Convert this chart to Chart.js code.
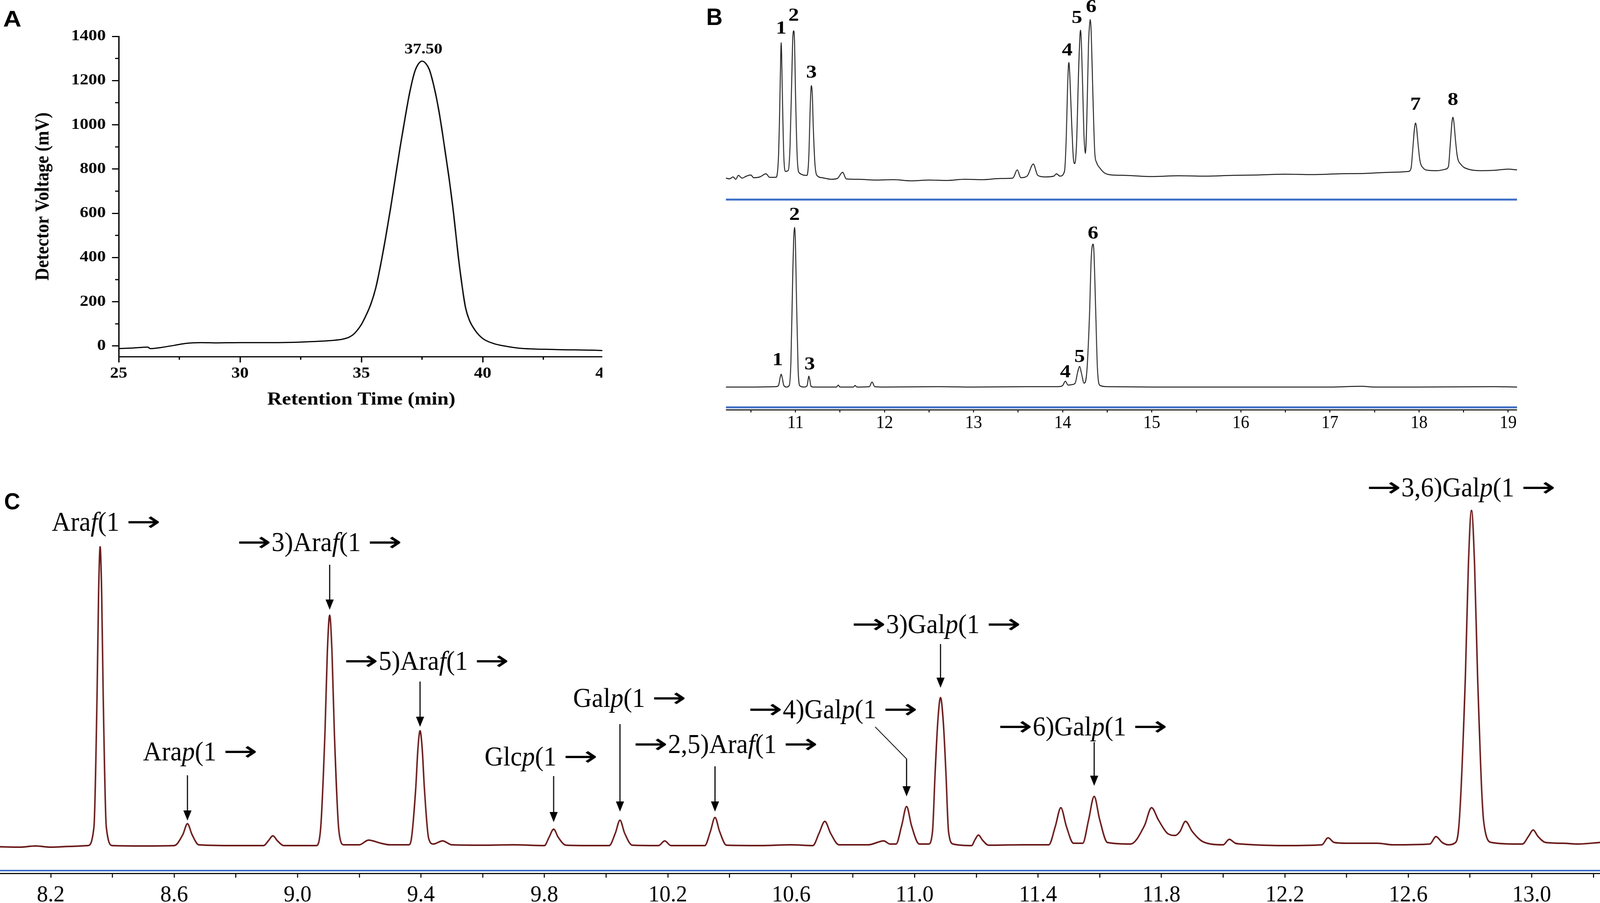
<!DOCTYPE html>
<html>
<head>
<meta charset="utf-8">
<script src="https://cdn.jsdelivr.net/npm/chart.js@4.4.1/dist/chart.umd.min.js"></script>
<style>
  html, body { margin: 0; padding: 0; background: #fff; overflow: hidden; }
  #stage { position: absolute; left: 0; top: 0; width: 4320px; height: 2312px; transform-origin: 0 0; overflow: hidden; }
  canvas { position: absolute; }
  .tag { position: absolute; font-family: 'Liberation Sans', Arial, sans-serif; font-weight: bold; line-height: 1; color: #000; }
</style>
</head>
<body>
<div id="stage">
  <div style="position:absolute;left:0;top:0;width:1626px;height:1060px;overflow:hidden">
    <div style="position:absolute;left:0;top:0;width:1400px;height:1060px;transform:scaleX(1.2);transform-origin:0 0">
      <canvas id="chartA" width="1400" height="1060" style="left:0;top:0"></canvas>
      <div class="tag" style="left:7px;top:20px;font-size:57px">A</div>
    </div>
  </div>
  <canvas id="chartBTop" width="2136" height="519" style="left:1960px;top:0"></canvas>
  <canvas id="chartBBot" width="2136" height="586" style="left:1960px;top:524px"></canvas>
  <div class="tag" style="left:1907px;top:13px;font-size:61px">B</div>
  <canvas id="chartC" width="4320" height="1202" style="left:0;top:1110px"></canvas>
  <div class="tag" style="left:11px;top:1254px;font-size:60px">C</div>
</div>

<script>
// ---- panel A: GPC elution profile ----
const aTime = [25.0, 25.6, 26.2, 26.3, 26.8, 27.3, 27.8, 28.4, 29.0, 30.0, 31.0, 32.0, 33.0, 33.8, 34.2, 34.5, 34.7, 35.0, 35.2, 35.4,
  35.6, 35.8, 36.0, 36.2, 36.4, 36.6, 36.8, 37.0, 37.2, 37.35, 37.5, 37.65, 37.8, 38.0, 38.2, 38.4, 38.6, 38.8, 39.0, 39.2,
  39.3, 39.45, 39.7, 40.0, 40.45, 41.0, 41.5, 43.0, 44.5, 45.0]
const aVolt = [-12, -9, -5, -12, -6, 3, 12, 15, 14, 15, 15, 16, 20, 25, 30, 40, 55, 97, 140, 192,
  265, 370, 490, 620, 760, 900, 1030, 1150, 1240, 1275, 1288, 1278, 1250, 1170, 1060, 920, 770, 600, 400, 235,
  170, 117, 69, 34, 11, -2, -10, -16, -19, -21]
const aXMajor = [25, 30, 35, 40, 45]
const aXMinor = [27.5, 32.5, 37.5, 42.5]
const aYMajor = [0, 200, 400, 600, 800, 1000, 1200, 1400]
const aYMinor = [100, 300, 500, 700, 900, 1100, 1300]
const aPeakLabel = { text: '37.50', x: 37.56, y: 1339 }

// ---- panel B: monosaccharide standards (top) and sample (bottom) ----
const bTopTime = [10.22, 10.26, 10.3, 10.33, 10.36, 10.4, 10.45, 10.5, 10.53, 10.6, 10.67, 10.71, 10.78,
  10.81, 10.825, 10.835, 10.84, 10.845, 10.855, 10.87, 10.89,
  10.92, 10.94, 10.96, 10.97, 10.98, 10.99, 11.0, 11.02, 11.045,
  11.13, 11.15, 11.165, 11.175, 11.18, 11.19, 11.2, 11.22, 11.25,
  11.3, 11.4, 11.47, 11.53, 11.57, 11.7, 11.9, 12.1, 12.3, 12.5, 12.7, 12.9, 13.1, 13.3, 13.44, 13.49, 13.53,
  13.6, 13.67, 13.72, 13.8, 13.9, 13.93, 13.97,
  14.02, 14.04, 14.055, 14.065, 14.07, 14.08, 14.1, 14.12, 14.135, 14.155,
  14.18, 14.195, 14.2, 14.21, 14.225, 14.24, 14.255,
  14.27, 14.29, 14.305, 14.31, 14.32, 14.34, 14.36, 14.38, 14.42, 14.47, 14.55,
  14.7, 15.0, 15.3, 15.6, 15.9, 16.2, 16.5, 16.8, 17.1, 17.4, 17.7, 17.88,
  17.91, 17.93, 17.95, 17.96, 17.97, 17.99, 18.01, 18.05, 18.1, 18.2, 18.3,
  18.33, 18.35, 18.37, 18.38, 18.39, 18.41, 18.43, 18.47, 18.55, 18.7, 18.85, 19.0, 19.1]
const bTopSignal = [55, 53, 58, 52, 62, 55, 60, 63, 56, 58, 66, 57, 57,
  110, 250, 370, 402, 372, 250, 110, 72,
  75, 140, 320, 410, 432, 405, 280, 110, 68,
  62, 110, 230, 285, 292, 268, 190, 88, 60,
  56, 52, 54, 70, 53, 52, 50, 51, 48, 50, 49, 52, 51, 54, 55, 76, 56,
  60, 91, 62, 58, 60, 66, 60,
  72, 160, 290, 345, 351, 318, 200, 105, 92, 140,
  340, 425, 434, 400, 280, 160, 118,
  200, 400, 455, 461, 430, 260, 120, 95, 80, 68, 63,
  62, 59, 61, 60, 62, 63, 65, 64, 66, 67, 70, 72,
  80, 130, 185, 196, 188, 140, 100, 80, 75, 74, 78,
  85, 140, 200, 211, 200, 150, 110, 90, 78, 74, 75, 78, 76]
const bTopPeakNames = ['1', '2', '3', '4', '5', '6', '7', '8']
const bTopPeakTime = [10.84, 10.98, 11.18, 14.05, 14.16, 14.32, 17.96, 18.38]
const bTopPeakTag = [437, 470, 324, 381, 464, 492, 242, 254]

const bBotTime = [10.22, 10.5, 10.78, 10.81, 10.83, 10.84, 10.85, 10.87, 10.9,
  10.93, 10.95, 10.97, 10.98, 10.99, 11.0, 11.01, 11.03, 11.05, 11.1,
  11.13, 11.145, 11.15, 11.16, 11.175, 11.2, 11.46, 11.48, 11.5, 11.65, 11.67, 11.69, 11.83, 11.86, 11.89,
  12.0, 12.6, 13.0, 13.6, 13.95, 14.0, 14.03, 14.06, 14.1, 14.14, 14.17, 14.19, 14.21, 14.24,
  14.27, 14.3, 14.32, 14.34, 14.35, 14.37, 14.39, 14.42, 14.5, 15.0, 16.0, 17.0, 17.35, 17.5, 18.0, 18.85, 19.1]
const bBotSignal = [52, 52, 53, 56, 78, 85, 78, 56, 52,
  56, 120, 340, 430, 461, 420, 300, 100, 55, 52,
  55, 75, 80, 72, 54, 52, 52, 57, 52, 52, 56, 52, 53, 65, 53,
  52, 53, 52, 53, 53, 56, 67, 57, 58, 62, 92, 105, 88, 62,
  90, 230, 380, 418, 400, 250, 100, 56, 53, 52, 52, 52, 54, 52, 52, 53, 52]
const bBotPeakNames = ['1', '2', '3', '4', '5', '6']
const bBotPeakTime = [10.80, 10.99, 11.16, 14.03, 14.19, 14.34]
const bBotPeakTag = [120, 492, 109, 89, 128, 444]
const bXTicks = [10.5, 11, 11.5, 12, 12.5, 13, 13.5, 14, 14.5, 15, 15.5, 16, 16.5, 17, 17.5, 18, 18.5, 19]

// ---- panel C: GC-MS of methylated alditol acetates ----
const cTime = [8.035, 8.1, 8.15, 8.2, 8.27, 8.32, 8.34, 8.35, 8.355, 8.36, 8.365, 8.37, 8.38, 8.4, 8.5,
  8.6, 8.628, 8.643, 8.658, 8.68, 8.8, 8.89, 8.905, 8.92, 8.935, 8.955,
  9.06, 9.074, 9.089, 9.0965, 9.104, 9.1115, 9.119, 9.134, 9.15, 9.2, 9.23, 9.27, 9.3,
  9.36, 9.369, 9.383, 9.39, 9.397, 9.404, 9.411, 9.425, 9.44, 9.47, 9.5, 9.6, 9.7,
  9.8, 9.815, 9.83, 9.845, 9.87, 9.95, 10.01, 10.03, 10.045, 10.06, 10.085, 10.17, 10.19, 10.21,
  10.32, 10.338, 10.353, 10.368, 10.39, 10.5, 10.6, 10.67, 10.69, 10.709, 10.728, 10.755, 10.85, 10.9, 10.92,
  10.94, 10.958, 10.974, 10.99, 11.015, 11.045, 11.058, 11.0665, 11.075, 11.084, 11.093, 11.1015, 11.11, 11.125,
  11.185, 11.195, 11.207, 11.22, 11.24, 11.35, 11.435, 11.456, 11.474, 11.492, 11.515,
  11.545, 11.564, 11.582, 11.6, 11.625, 11.7, 11.745, 11.768, 11.79, 11.82, 11.845,
  11.86, 11.878, 11.9, 11.93, 11.96, 12.0, 12.02, 12.04, 12.06, 12.1, 12.2, 12.32, 12.34, 12.36, 12.4, 12.5, 12.55,
  12.67, 12.69, 12.71, 12.73, 12.75, 12.765, 12.785, 12.795, 12.805, 12.815, 12.825, 12.845, 12.87,
  12.95, 12.97, 12.99, 13.005, 13.02, 13.045, 13.1, 13.15, 13.2216]
const cSignal = [61, 60, 63, 60, 62, 64, 112, 446, 707, 829, 707, 446, 112, 64, 63,
  64, 92, 120, 92, 66, 64, 64, 76, 89, 76, 64,
  64, 101, 359, 560, 654, 560, 359, 101, 66, 66, 78, 70, 66,
  66, 82, 211, 311, 358, 311, 211, 82, 68, 76, 66, 65, 66,
  64, 85, 106, 85, 65, 64, 64, 96, 129, 96, 65, 64, 76, 64,
  64, 100, 136, 100, 65, 64, 66, 64, 95, 126, 95, 66, 66, 76, 68,
  68, 115, 164, 115, 68, 68, 100, 250, 380, 443, 380, 250, 100, 68,
  64, 78, 91, 78, 65, 66, 66, 113, 161, 113, 70,
  70, 130, 190, 130, 72, 68, 115, 161, 130, 95, 90,
  100, 126, 100, 76, 68, 66, 80, 70, 68, 66, 64, 66, 84, 72, 70, 70, 66,
  68, 87, 72, 66, 70, 123, 492, 783, 922, 783, 492, 123, 72,
  68, 68, 88, 104, 88, 72, 70, 68, 72]
const cXTicks = [8.2, 8.4, 8.6, 8.8, 9.0, 9.2, 9.4, 9.6, 9.8, 10.0, 10.2, 10.4, 10.6, 10.8, 11.0, 11.2, 11.4,
  11.6, 11.8, 12.0, 12.2, 12.4, 12.6, 12.8, 13.0, 13.2]
const cLinkages = ['Ara_f_(1→', 'Ara_p_(1→', '→3)Ara_f_(1→', '→5)Ara_f_(1→', 'Glc_p_(1→', 'Gal_p_(1→',
  '→2,5)Ara_f_(1→', '→4)Gal_p_(1→', '→3)Gal_p_(1→', '→6)Gal_p_(1→', '→3,6)Gal_p_(1→']
const cLinkageTime = [8.2034, 8.499, 8.803, 9.15, 9.606, 9.893, 10.088, 10.46, 10.795, 11.27, 12.465]
const cLinkageTag = [888, 300, 836, 532, 287, 437, 319, 408, 626, 364, 976]
// arrows: peak time, start level, tip level
const cArrowTime = [8.643, 9.104, 9.397, 9.83, 10.045, 10.353, 10.974, 11.084, 11.582]
const cArrowFrom = [244, 783, 484, 242, 375, 267, 286, 580, 329]
const cArrowTo = [128, 668, 368, 124, 151, 151, 190, 468, 217]

const serif = "'Liberation Serif', 'Times New Roman', serif"
const arrowFont = "'DejaVu Sans', sans-serif"

// the figure is laid out on a 4320x2312 stage, stretched onto the real viewport
const stage = document.getElementById('stage')
const fitX = window.innerWidth / 4320
const fitY = window.innerHeight / 2312
if (Math.abs(fitX - 1) > 0.001 || Math.abs(fitY - 1) > 0.001) stage.style.transform = 'scale(' + fitX + ',' + fitY + ')'

const xy = (xs, ys) => xs.map((x, i) => ({ x: x, y: ys[i] }))
const tags = (names, xs, ys) => names.map((t, i) => ({ text: t, x: xs[i], y: ys[i] }))

// text with _italic_ parts; arrows drawn from a wider font and stretched
function drawRich(ctx, text, px, py, o) {
  const runs = []
  text.split('_').forEach((part, i) => {
    part.split(/(→)/).forEach((s) => { if (s) runs.push({ s: s, it: i % 2 === 1, arrow: s === '→' }) })
  })
  const fontOf = (r) => r.arrow ? o.size + 'px ' + arrowFont
    : (r.it ? 'italic ' : '') + (o.bold ? 'bold ' : '') + o.size + 'px ' + serif
  const sx = o.sx || 1
  const widths = runs.map((r) => {
    ctx.font = fontOf(r)
    return ctx.measureText(r.s).width * sx * (r.arrow ? o.arrowScale : 1)
  })
  const gaps = runs.map((r, i) => (r.arrow && i > 0 ? o.arrowGap : 0))
  const total = widths.reduce((a, b) => a + b, 0) + gaps.reduce((a, b) => a + b, 0)
  let cx = o.align === 'center' ? px - total / 2 : px
  ctx.textBaseline = 'middle'
  ctx.textAlign = 'left'
  runs.forEach((r, i) => {
    cx += gaps[i]
    ctx.font = fontOf(r)
    ctx.save()
    ctx.translate(cx, py)
    ctx.scale(sx * (r.arrow ? o.arrowScale : 1), 1)
    ctx.fillText(r.s, 0, 0)
    ctx.restore()
    cx += widths[i]
  })
}

const annotate = {
  id: 'annotate',
  afterDatasetsDraw(chart, args, o) {
    const { ctx } = chart
    const x = chart.scales.x
    const y = chart.scales.y
    ctx.save()
    ctx.strokeStyle = '#000'
    ctx.fillStyle = '#000'
    ctx.lineWidth = 3
    ;(o.minorX || []).forEach((v) => {
      const px = x.getPixelForValue(v)
      ctx.beginPath(); ctx.moveTo(px, x.top); ctx.lineTo(px, x.top + o.minorLen); ctx.stroke()
    })
    ;(o.minorY || []).forEach((v) => {
      const py = y.getPixelForValue(v)
      ctx.beginPath(); ctx.moveTo(y.right - o.minorLen, py); ctx.lineTo(y.right, py); ctx.stroke()
    })
    ;(o.slants || []).forEach((s) => {
      ctx.lineWidth = 2
      ctx.beginPath()
      ctx.moveTo(x.getPixelForValue(s.x1), y.getPixelForValue(s.y1))
      ctx.lineTo(x.getPixelForValue(s.x2), y.getPixelForValue(s.y2))
      ctx.stroke()
    })
    ;(o.arrows || []).forEach((a) => {
      const px = x.getPixelForValue(a.x)
      const p1 = y.getPixelForValue(a.from)
      const p2 = y.getPixelForValue(a.to)
      ctx.lineWidth = 3
      ctx.beginPath(); ctx.moveTo(px, p1); ctx.lineTo(px, p2 - 20); ctx.stroke()
      ctx.beginPath(); ctx.moveTo(px - 11, p2 - 26); ctx.lineTo(px + 11, p2 - 26); ctx.lineTo(px, p2); ctx.closePath(); ctx.fill()
    })
    ;(o.labels || []).forEach((l) => drawRich(ctx, l.text, x.getPixelForValue(l.x), y.getPixelForValue(l.y), o))
    ctx.restore()
  },
}

const base = {
  responsive: false,
  animation: false,
  devicePixelRatio: 1,
  events: [],
}
const noLegend = { legend: { display: false }, tooltip: { enabled: false } }

// panel A
new Chart(document.getElementById('chartA'), {
  type: 'line',
  data: {
    datasets: [{ data: xy(aTime, aVolt), borderColor: '#000', borderWidth: 3, pointRadius: 0, cubicInterpolationMode: 'monotone' }],
  },
  options: {
    ...base,
    layout: { padding: { left: 0, top: 93, right: 41, bottom: 0 } },
    plugins: {
      ...noLegend,
      annotate: {
        minorX: aXMinor, minorY: aYMinor, minorLen: 8,
        labels: [aPeakLabel], size: 38, bold: true, align: 'center', arrowScale: 1, arrowGap: 0,
      },
    },
    scales: {
      x: {
        type: 'linear', min: 25, max: 45,
        afterBuildTicks: (s) => { s.ticks = aXMajor.map((v) => ({ value: v })) },
        afterFit: (s) => { s.height = 147 },
        ticks: { font: { family: serif, size: 39, weight: 'bold' }, color: '#000', padding: 6, autoSkip: false, maxRotation: 0,
          callback: (v) => String(v) },
        grid: { drawOnChartArea: false, tickLength: 15, tickWidth: 3, tickColor: '#000' },
        border: { color: '#000', width: 3 },
        title: { display: true, text: 'Retention Time (min)', color: '#000', font: { family: serif, size: 46, weight: 'bold' }, padding: { top: 0, bottom: 8 } },
      },
      y: {
        min: -48, max: 1400,
        afterBuildTicks: (s) => { s.ticks = aYMajor.map((v) => ({ value: v })) },
        afterFit: (s) => { s.width = 267 },
        ticks: { font: { family: serif, size: 39, weight: 'bold' }, color: '#000', padding: 14, callback: (v) => String(v) },
        grid: { drawOnChartArea: false, tickLength: 15, tickWidth: 3, tickColor: '#000' },
        border: { color: '#000', width: 3 },
        title: { display: true, text: 'Detector Voltage (mV)', color: '#000', font: { family: serif, size: 45, weight: 'bold' }, padding: { top: 70, bottom: 0 } },
      },
    },
  },
  plugins: [annotate],
})

// panel B, top trace
const bMin = 10.22
const bMax = 19.1
new Chart(document.getElementById('chartBTop'), {
  type: 'line',
  data: {
    datasets: [
      { data: xy(bTopTime, bTopSignal), borderColor: '#1e1e1e', borderWidth: 2.5, pointRadius: 0, cubicInterpolationMode: 'monotone' },
      { data: [{ x: bMin, y: 0 }, { x: bMax, y: 0 }], borderColor: '#3d6fc6', borderWidth: 5, pointRadius: 0 },
    ],
  },
  options: {
    ...base,
    layout: { padding: 0 },
    plugins: {
      ...noLegend,
      annotate: { labels: tags(bTopPeakNames, bTopPeakTime, bTopPeakTag), size: 46, bold: true, align: 'center', sx: 1.25, arrowScale: 1, arrowGap: 0 },
    },
    scales: {
      x: { type: 'linear', min: bMin, max: bMax, display: false },
      y: { min: -8, max: 511, display: false },
    },
  },
  plugins: [annotate],
})

// panel B, bottom trace
new Chart(document.getElementById('chartBBot'), {
  type: 'line',
  data: {
    datasets: [
      { data: xy(bBotTime, bBotSignal), borderColor: '#1e1e1e', borderWidth: 2.5, pointRadius: 0, cubicInterpolationMode: 'monotone' },
      { data: [{ x: bMin, y: 0 }, { x: bMax, y: 0 }], borderColor: '#3d6fc6', borderWidth: 5, pointRadius: 0 },
    ],
  },
  options: {
    ...base,
    layout: { padding: 0 },
    plugins: {
      ...noLegend,
      annotate: { labels: tags(bBotPeakNames, bBotPeakTime, bBotPeakTag), size: 46, bold: true, align: 'center', sx: 1.25, arrowScale: 1, arrowGap: 0 },
    },
    scales: {
      x: {
        type: 'linear', min: bMin, max: bMax,
        afterBuildTicks: (s) => { s.ticks = bXTicks.map((v) => ({ value: v })) },
        afterFit: (s) => { s.height = 61 },
        ticks: { font: { family: serif, size: 46 }, color: '#000', padding: 0, autoSkip: false, maxRotation: 0,
          callback: (v, i) => (i % 2 === 1 ? String(v) : '') },
        grid: { drawOnChartArea: false, tickLength: 7, tickWidth: 3, tickColor: '#222' },
        border: { color: '#222', width: 3 },
      },
      y: { min: -6, max: 519, display: false },
    },
  },
  plugins: [annotate],
})

// panel C
const cMin = 8.0355
const cMax = 13.2216
new Chart(document.getElementById('chartC'), {
  type: 'line',
  data: {
    datasets: [
      { data: xy(cTime, cSignal), borderColor: '#6a1b1b', borderWidth: 4, pointRadius: 0, cubicInterpolationMode: 'monotone' },
      { data: [{ x: cMin, y: 0 }, { x: cMax, y: 0 }], borderColor: '#3d6fc6', borderWidth: 4, pointRadius: 0 },
    ],
  },
  options: {
    ...base,
    layout: { padding: 0 },
    plugins: {
      ...noLegend,
      annotate: {
        labels: tags(cLinkages, cLinkageTime, cLinkageTag),
        arrows: cArrowTime.map((t, i) => ({ x: t, from: cArrowFrom[i], to: cArrowTo[i] })),
        slants: [{ x1: 10.872, y1: 368, x2: 10.974, y2: 286 }],
        size: 70, bold: false, align: 'left', arrowScale: 1.6, arrowGap: 18,
      },
    },
    scales: {
      x: {
        type: 'linear', min: cMin, max: cMax,
        afterBuildTicks: (s) => { s.ticks = cXTicks.map((v) => ({ value: v })) },
        afterFit: (s) => { s.height = 76 },
        ticks: { font: { family: serif, size: 60 }, color: '#000', padding: 9, autoSkip: false, maxRotation: 0,
          callback: (v, i) => (i % 2 === 0 ? v.toFixed(1) : '') },
        grid: { drawOnChartArea: false, tickLength: 11, tickWidth: 3, tickColor: '#111' },
        border: { color: '#111', width: 3 },
      },
      y: { min: -7, max: 1119, display: false },
    },
  },
  plugins: [annotate],
})
</script>
</body>
</html>
